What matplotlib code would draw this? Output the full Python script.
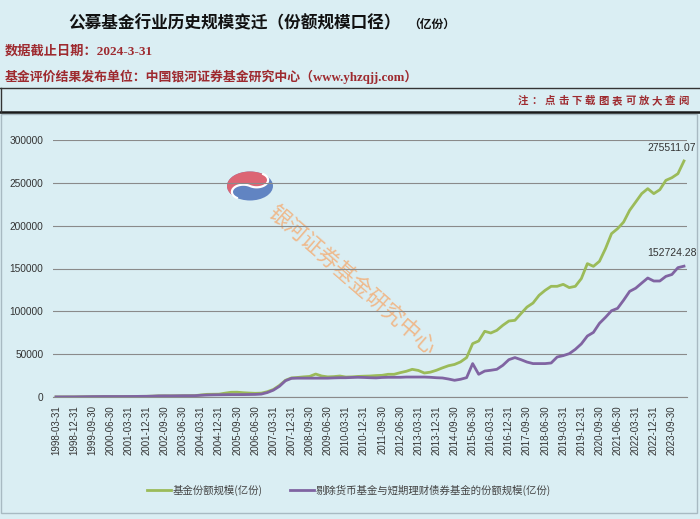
import matplotlib
matplotlib.use('Agg')
import matplotlib.pyplot as plt
import numpy as np
import pandas as pd
from matplotlib.patches import Polygon, Rectangle, Ellipse

plt.rcParams['font.family'] = ['Noto Sans CJK SC', 'DejaVu Sans']

# quarter-end dates 1998-03-31 .. 2024-03-31
dates = pd.date_range('1998-03-31', '2024-03-31', freq='QE')
date_labels = [d.strftime('%Y-%m-%d') for d in dates]

# 基金份额规模(亿份)
total_shares = [
    100, 120, 150, 160,            # 1998
    250, 350, 450, 500,            # 1999
    560, 560, 560, 560,            # 2000
    600, 650, 750, 800,            # 2001
    1000, 1300, 1350, 1330,        # 2002
    1400, 1500, 1550, 1600,        # 2003
    2400, 3100, 3200, 3300,        # 2004
    4500, 5500, 5600, 5000,        # 2005
    4600, 4300, 4500, 6200,        # 2006
    8800, 13500, 19500, 22300,     # 2007
    22800, 23500, 24000, 26800,    # 2008
    24500, 23500, 23800, 24500,    # 2009
    23300, 23500, 24000, 24300,    # 2010
    24500, 25000, 25300, 26500,    # 2011
    26500, 28400, 30000, 32300,    # 2012
    31000, 28000, 29000, 31200,    # 2013
    34000, 36500, 38000, 41000,    # 2014
    46000, 62300, 65400, 76700,    # 2015
    74700, 77800, 83700, 88700,    # 2016
    89500, 97300, 105000, 109700,  # 2017
    118700, 124500, 129200, 129200,  # 2018
    131500, 127700, 129200, 138200,  # 2019
    155700, 152500, 158400, 173200,  # 2020
    190700, 196500, 204200, 217900,  # 2021
    227600, 237400, 243200, 237400,  # 2022
    242000, 252900, 256000, 260700,  # 2023
    275511.07,                       # 2024Q1
]

# 剔除货币基金与短期理财债券基金的份额规模(亿份)
ex_money_shares = [
    100, 120, 150, 160,
    250, 350, 450, 500,
    560, 560, 560, 560,
    600, 650, 750, 800,
    1000, 1300, 1350, 1330,
    1400, 1500, 1500, 1550,
    2000, 2300, 2500, 2600,
    2700, 2800, 2800, 2800,
    2900, 3000, 3400, 5200,
    8000, 12500, 19000, 21800,
    22000, 22000, 22000, 22000,
    22000, 22000, 22300, 22500,
    22500, 22800, 23000, 22800,
    22500, 22300, 22800, 23000,
    23000, 23000, 23300, 23300,
    23300, 23300, 23000, 22500,
    22200, 21000, 19500, 20700,
    22600, 39000, 26500, 30300,
    31200, 32300, 37000, 43600,
    46000, 43600, 40800, 39000,
    39000, 39000, 39700, 46700,
    48300, 50600, 55600, 62000,
    71200, 75400, 86000, 93000,
    100700, 103500, 113000, 123300,
    127000, 133000, 138900, 135400,
    135400, 140800, 143000, 151000,
    152724.28,
]

series_names = ['基金份额规模(亿份)', '剔除货币基金与短期理财债券基金的份额规模(亿份)']

W, H = 700, 519
BG = '#DAEEF3'
DARK_RED = '#9E2A2F'
GREEN = '#9BBB59'
PURPLE = '#8064A2'

fig = plt.figure(figsize=(W / 100, H / 100), dpi=100, facecolor=BG)

# background layer in pixel coordinates (header, frame, watermark)
bg = fig.add_axes([0, 0, 1, 1], zorder=0)
bg.set_xlim(0, W)
bg.set_ylim(H, 0)
bg.axis('off')

bg.plot([0, W], [88, 88], color='#333333', lw=1)
bg.plot([0, W], [112, 112], color='#1a1a1a', lw=1.8)
bg.plot([0.5, 0.5], [88, 112], color='#333333', lw=1)
bg.add_patch(Rectangle((1, 114), 696, 399, fill=False, ec='#A8BAC2', lw=1))

serif_cjk = ['Liberation Serif', 'Noto Sans CJK SC']
bg.text(68, 23, '公募基金行业历史规模变迁（份额规模口径）', ha='left', va='center',
        fontsize=12, weight='bold', color='#111111')
bg.text(408, 24, '（亿份）', ha='left', va='center', fontsize=8.5, weight='bold', color='#111111')
bg.text(5, 51, '数据截止日期：2024-3-31', ha='left', va='center', fontsize=9.5,
        weight='bold', color=DARK_RED, family=serif_cjk)
bg.text(5, 77, '基金评价结果发布单位：中国银河证券基金研究中心（www.yhzqjj.com）', ha='left',
        va='center', fontsize=9.3, weight='bold', color=DARK_RED, family=serif_cjk)
note = '注：点击下载图表可放大查阅'
for i, ch in enumerate(note):
    bg.text(523 + i * 13.4, 101, ch, ha='center', va='center', fontsize=7.5,
            weight='bold', color=DARK_RED)


def draw_logo(axp, cx, cy, rx, ry, rot):
    t = np.linspace(0, 1, 60)
    a1 = np.radians(90 + 180 * t)
    big = np.c_[np.cos(a1), np.sin(a1)]
    a2 = np.radians(270 - 180 * t)
    s1 = np.c_[0.5 * np.cos(a2), -0.5 + 0.5 * np.sin(a2)]
    a3 = np.radians(270 + 180 * t)
    s2 = np.c_[0.5 * np.cos(a3), 0.5 + 0.5 * np.sin(a3)]
    r = np.radians(rot)
    rm = np.array([[np.cos(r), -np.sin(r)], [np.sin(r), np.cos(r)]])

    def tf(p):
        q = p @ rm.T
        return np.c_[cx + rx * q[:, 0], cy - ry * q[:, 1]]

    axp.add_patch(Ellipse((cx, cy), 2 * rx, 2 * ry, fc='#5B7EC0', ec='none', alpha=0.95))
    axp.add_patch(Polygon(tf(np.vstack([big, s1, s2])), closed=True, fc='#E46470',
                          ec='none', alpha=0.95))
    sc = tf(np.vstack([s1, s2]))
    axp.plot(sc[:, 0], sc[:, 1], color='white', lw=1.6)


draw_logo(bg, 250, 186, 23, 14.5, -35)
bg.text(352, 280, '银河证券基金研究中心', rotation=-41, ha='center', va='center',
        fontsize=15.5, color='#F2B07A', alpha=0.85, rotation_mode='anchor')

# main chart
ax = fig.add_axes([53 / W, 1 - 397 / H, 634 / W, 257 / H], zorder=1)
ax.patch.set_alpha(0)
x = np.arange(len(date_labels))
ax.plot(x, total_shares, color=GREEN, lw=2, label=series_names[0], zorder=3)
ax.plot(x, ex_money_shares, color=PURPLE, lw=2, label=series_names[1], zorder=3)

ax.set_xlim(-0.5, len(x) - 0.5)
ax.set_ylim(0, 300000)
ax.set_yticks(range(0, 300001, 50000))
ax.yaxis.grid(True, color='#8A8A8A', lw=0.8)
ax.set_axisbelow(True)
for s in ['top', 'right', 'left']:
    ax.spines[s].set_visible(False)
ax.spines['bottom'].set_color('#8A8A8A')
ax.spines['bottom'].set_linewidth(0.8)

ax.set_xticks(x[::3])
ax.set_xticklabels(date_labels[::3], rotation=90, fontsize=7, family='Liberation Sans',
                   color='#333333')
for lab in ax.get_yticklabels():
    lab.set_family('Liberation Sans')
ax.tick_params(axis='y', length=0, pad=7, labelsize=7.3, labelcolor='#333333')
ax.tick_params(axis='x', length=0, pad=6)

for vals in (total_shares, ex_money_shares):
    ax.annotate(f'{vals[-1]:.2f}', xy=(x[-1], vals[-1]), xytext=(-9, 9.5),
                textcoords='offset points', ha='center', va='center', fontsize=7.5,
                family='Liberation Sans', color='#333333')

fig.legend(loc='center', bbox_to_anchor=(349 / W, 1 - 490 / H), ncol=2, frameon=False,
           fontsize=7.5, handlelength=2.3, handletextpad=0.2, columnspacing=2.6,
           labelcolor='#444444')

fig.savefig('out.png', dpi=100, facecolor=BG)
